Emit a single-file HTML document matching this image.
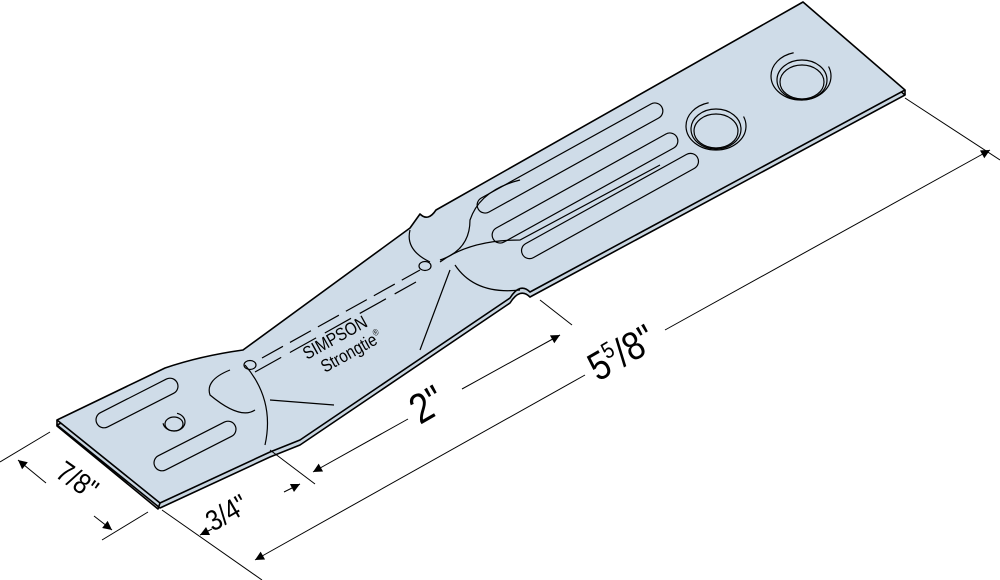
<!DOCTYPE html>
<html><head><meta charset="utf-8"><style>
html,body{margin:0;padding:0;background:#fff;}
svg{display:block}
text{font-family:"Liberation Sans",sans-serif;fill:#000}
</style></head><body>
<svg width="1000" height="580" viewBox="0 0 1000 580" xmlns="http://www.w3.org/2000/svg">
<defs>
<marker id="a" viewBox="0 0 10 10" refX="10" refY="5" markerWidth="15" markerHeight="9" orient="auto-start-reverse" markerUnits="userSpaceOnUse"><path d="M0,0 L10,5 L0,10 z" fill="#000"/></marker>
</defs>
<g stroke="#000" stroke-width="1.6" stroke-linejoin="round">
<path transform="translate(0,5)" fill="#c9d6e1" d="M57,420 L165,368 Q200,356 243,350 L410,228 L420,214 Q428,222 436,210 L803,2 L905,90 L530,292 Q520,282 510,298 L300,440 Q280,448 270,452 L160,503 Z"/>
<path fill="#cfdce8" d="M57,420 L165,368 Q200,356 243,350 L410,228 L420,214 Q428,222 436,210 L803,2 L905,90 L530,292 Q520,282 510,298 L300,440 Q280,448 270,452 L160,503 Z"/>
<path fill="none" d="M57,420 L57,426 L158,509 L160,503 M905,90 L905,95"/>
</g>
<g fill="none" stroke="#000" stroke-width="1.2">
<rect x="92" y="395" width="90" height="16" rx="8" transform="rotate(-27 137 403)"/>
<rect x="150" y="438" width="90" height="16" rx="8" transform="rotate(-27 195 446)"/>
<ellipse cx="174" cy="424" rx="9" ry="7"/>
<ellipse cx="174" cy="422" rx="11" ry="9" stroke-dasharray="30 20"/>
<rect x="465" y="150" width="210" height="16" rx="8" transform="rotate(-29 570 158)"/>
<rect x="480" y="180" width="210" height="16" rx="8" transform="rotate(-29 585 188)"/>
<rect x="510" y="198" width="200" height="16" rx="8" transform="rotate(-29 610 206)"/>
<ellipse cx="716" cy="131" rx="22" ry="17"/>
<ellipse cx="716" cy="129" rx="25" ry="20"/>
<ellipse cx="716" cy="126" rx="30" ry="24" stroke-dasharray="120 40"/>
<ellipse cx="802" cy="82" rx="22" ry="17"/>
<ellipse cx="802" cy="80" rx="25" ry="20"/>
<ellipse cx="801" cy="76" rx="30" ry="24" stroke-dasharray="120 40"/>
<ellipse cx="425" cy="266" rx="6" ry="4.5"/>
<ellipse cx="250" cy="365" rx="6" ry="4.5"/>
<path d="M262,358 L420,270" stroke-dasharray="24 8"/>
<path d="M255,372 L416,282" stroke-dasharray="30 10"/>
<path d="M440,262 Q470,240 520,240 L660,165"/>
<path d="M440,260 Q470,250 470,220 Q480,190 520,180"/>
<path d="M455,265 Q475,295 520,290"/>
<path d="M450,270 L420,350"/>
<path d="M230,370 Q205,380 210,395 Q240,420 255,410"/>
<path d="M245,365 Q275,400 265,445"/>
<path d="M270,400 L334,405"/>
<path d="M410,230 Q405,250 430,262"/>
</g>
<text font-size="18" transform="translate(307,360) rotate(-29) scale(0.85,1)">SIMPSON</text>
<text font-size="18" transform="translate(325,373) rotate(-29) scale(0.85,1)">Strongtie<tspan font-size="9" dy="-8">®</tspan></text>
<g stroke="#000" stroke-width="1" fill="none">
<path d="M50,432 L0,462"/>
<path d="M148,512 L102,540"/>
<path d="M18,460 L46,483" marker-start="url(#a)"/>
<path d="M94,516 L112,530" marker-end="url(#a)"/>
<path d="M162,510 L262,580"/>
<path d="M270,450 L315,484"/>
<path d="M200,535 L212,529" marker-start="url(#a)"/>
<path d="M284,492 L300,484" marker-end="url(#a)"/>
<path d="M313,472 L408,419" marker-start="url(#a)"/>
<path d="M462,389 L560,335" marker-end="url(#a)"/>
<path d="M540,300 L572,325"/>
<path d="M905,98 L1000,160"/>
<path d="M255,560 L585,375" marker-start="url(#a)"/>
<path d="M665,330 L990,150" marker-end="url(#a)"/>
</g>
<g transform="translate(54,476) rotate(35) scale(0.85,1)"><text font-size="29">7/8"</text></g>
<g transform="translate(213,532) rotate(-30) scale(0.85,1)"><text font-size="29">3/4"</text></g>
<g transform="translate(420,425) rotate(-30) scale(0.85,1)"><text font-size="42">2"</text></g>
<g transform="translate(598,382) rotate(-30) scale(0.85,1)"><text font-size="40">5<tspan font-size="23" dy="-15">5</tspan><tspan dy="15">/8"</tspan></text></g>
</svg>
</body></html>
